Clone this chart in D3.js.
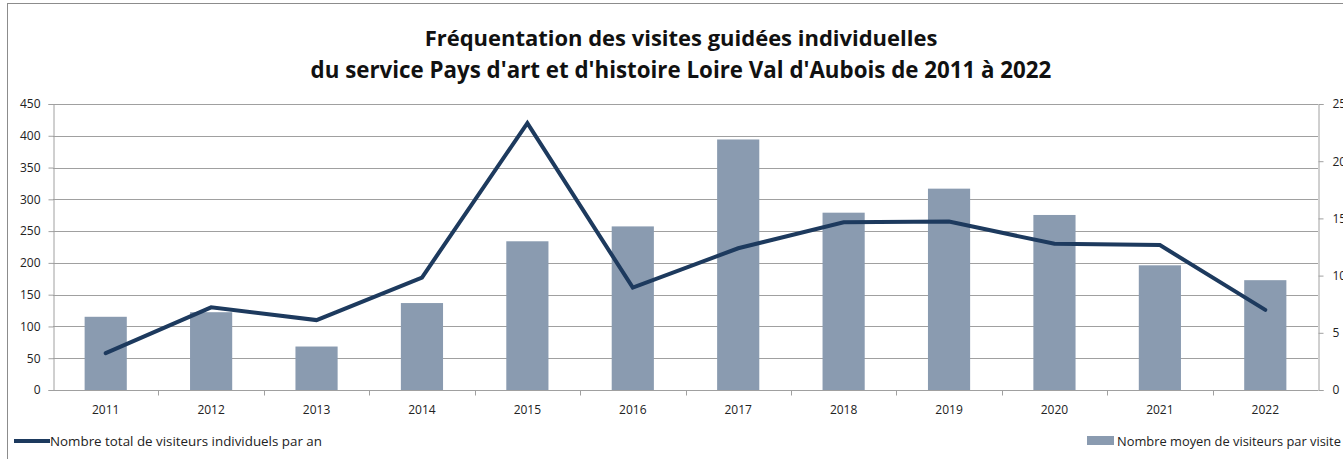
<!DOCTYPE html>
<html>
<head>
<meta charset="utf-8">
<script src="https://cdn.jsdelivr.net/npm/d3@7"></script>
<style>
  body { margin: 0; background: #fff; }
  svg { display: block; font-family: "Open Sans", sans-serif; }
</style>
</head>
<body>
<svg id="chart"></svg>
<script>
const years = ["2011", "2012", "2013", "2014", "2015", "2016", "2017", "2018", "2019", "2020", "2021", "2022"];
// total individual visitors per year (left axis, line)
const totalVisitors = [58, 130, 110, 177, 420, 161, 223, 264, 265, 230, 228, 126];
// average visitors per visit (right axis, bars)
const avgPerVisit = [6.4, 6.8, 3.8, 7.6, 13.0, 14.3, 21.9, 15.5, 17.6, 15.3, 10.9, 9.6];
const leftTicks = [0, 50, 100, 150, 200, 250, 300, 350, 400, 450];
const rightTicks = [0, 5, 10, 15, 20, 25];
const titleLines = [
    "Fréquentation des visites guidées individuelles",
    "du service Pays d'art et d'histoire Loire Val d'Aubois de 2011 à 2022"
];
const lineLabel = "Nombre total de visiteurs individuels par an";
const barLabel = "Nombre moyen de visiteurs par visite";

const width = 1343;
const height = 459;
const margin = {left: 53, right: 25, top: 104, bottom: 69};

let svg = d3.select("#chart").attr("width", width).attr("height", height);

// outer chart frame (only top and left edges visible)
svg.append("rect")
    .attr("x", 7.5).attr("y", 3.5)
    .attr("width", width + 20).attr("height", height + 20)
    .attr("fill", "none")
    .attr("stroke", "#8c8c8c");

const x = d3.scaleBand()
    .domain(years)
    .range([margin.left, width - margin.right])
    .paddingInner(0.6)
    .paddingOuter(0.3);

const xOuter = d3.scaleBand()
    .domain(years)
    .range([margin.left, width - margin.right]);

const yLeft = d3.scaleLinear().domain([0, 450]).range([height - margin.bottom, margin.top]);
const yRight = d3.scaleLinear().domain([0, 25]).range([height - margin.bottom, margin.top]);

// fit a text to a given width by adjusting font size
function fitText(sel, target) {
    let fs = parseFloat(sel.attr("font-size"));
    let w = sel.node().getComputedTextLength();
    sel.attr("font-size", (fs * target / w).toFixed(2));
}

// gridlines
svg.append("g")
    .selectAll("line")
    .data(leftTicks)
    .enter()
    .append("line")
    .attr("x1", margin.left)
    .attr("x2", width - margin.right)
    .attr("y1", d => Math.round(yLeft(d)) + 0.5)
    .attr("y2", d => Math.round(yLeft(d)) + 0.5)
    .attr("stroke", "#a0a0a0")
    .attr("stroke-width", 1);

// bars
svg.append("g")
    .selectAll("rect")
    .data(avgPerVisit)
    .enter()
    .append("rect")
    .attr("x", (d, i) => x(years[i]))
    .attr("width", x.bandwidth())
    .attr("y", d => yRight(d))
    .attr("height", d => yRight(0) - yRight(d))
    .attr("fill", "#8a9bb0");

// left axis
let gLeft = svg.append("g")
    .attr("transform", `translate(${margin.left + 0.5},0)`)
    .call(d3.axisLeft(yLeft).tickValues(leftTicks).tickSize(5).tickPadding(8));

// right axis
let gRight = svg.append("g")
    .attr("transform", `translate(${width - margin.right + 0.5},0)`)
    .call(d3.axisRight(yRight).tickValues(rightTicks).tickSize(5).tickPadding(9));

// bottom axis: ticks between categories
let gBottom = svg.append("g")
    .attr("transform", `translate(0,${Math.round(yLeft(0)) + 0.5})`);
gBottom.append("line")
    .attr("x1", margin.left).attr("x2", width - margin.right)
    .attr("stroke", "#a0a0a0");
gBottom.selectAll(".sep")
    .data(years.slice(1))
    .enter()
    .append("line")
    .attr("class", "sep")
    .attr("x1", d => Math.round(xOuter(d)) + 0.5)
    .attr("x2", d => Math.round(xOuter(d)) + 0.5)
    .attr("y1", 0).attr("y2", 5)
    .attr("stroke", "#a0a0a0");
gBottom.selectAll(".yr")
    .data(years)
    .enter()
    .append("text")
    .attr("class", "yr")
    .attr("x", d => xOuter(d) + xOuter.bandwidth() / 2)
    .attr("y", 23)
    .attr("text-anchor", "middle")
    .attr("font-size", 12)
    .attr("fill", "#222")
    .text(d => d);

[gLeft, gRight].forEach(g => {
    g.select(".domain").attr("stroke", "#a0a0a0");
    g.selectAll(".tick line").attr("stroke", "#a0a0a0");
    g.selectAll(".tick text")
        .attr("font-size", 12)
        .attr("font-family", "Open Sans, sans-serif")
        .attr("fill", "#222");
});

// line
const line = d3.line()
    .x((d, i) => xOuter(years[i]) + xOuter.bandwidth() / 2)
    .y(d => yLeft(d));

svg.append("path")
    .datum(totalVisitors)
    .attr("d", line)
    .attr("fill", "none")
    .attr("stroke", "#1d3a5e")
    .attr("stroke-width", 4)
    .attr("stroke-linecap", "round")
    .attr("stroke-linejoin", "miter");

// title
let t1 = svg.append("text")
    .attr("x", 681).attr("y", 46)
    .attr("text-anchor", "middle")
    .attr("font-weight", "bold")
    .attr("font-size", 20)
    .attr("fill", "#111")
    .text(titleLines[0]);
fitText(t1, 513);
let t2 = svg.append("text")
    .attr("x", 681).attr("y", 78)
    .attr("text-anchor", "middle")
    .attr("font-weight", "bold")
    .attr("font-size", 20)
    .attr("fill", "#111")
    .text(titleLines[1]);
fitText(t2, 741);

// legend: line series
svg.append("line")
    .attr("x1", 14).attr("x2", 50)
    .attr("y1", 441).attr("y2", 441)
    .attr("stroke", "#1d3a5e")
    .attr("stroke-width", 4);
let l1 = svg.append("text")
    .attr("x", 50).attr("y", 445.5)
    .attr("font-size", 12)
    .attr("fill", "#222")
    .text(lineLabel);
fitText(l1, 272);

// legend: bar series
svg.append("rect")
    .attr("x", 1087).attr("y", 436)
    .attr("width", 27).attr("height", 9)
    .attr("fill", "#8a9bb0");
let l2 = svg.append("text")
    .attr("x", 1117).attr("y", 445.5)
    .attr("font-size", 12)
    .attr("fill", "#222")
    .text(barLabel);
fitText(l2, 224);
</script>
</body>
</html>
